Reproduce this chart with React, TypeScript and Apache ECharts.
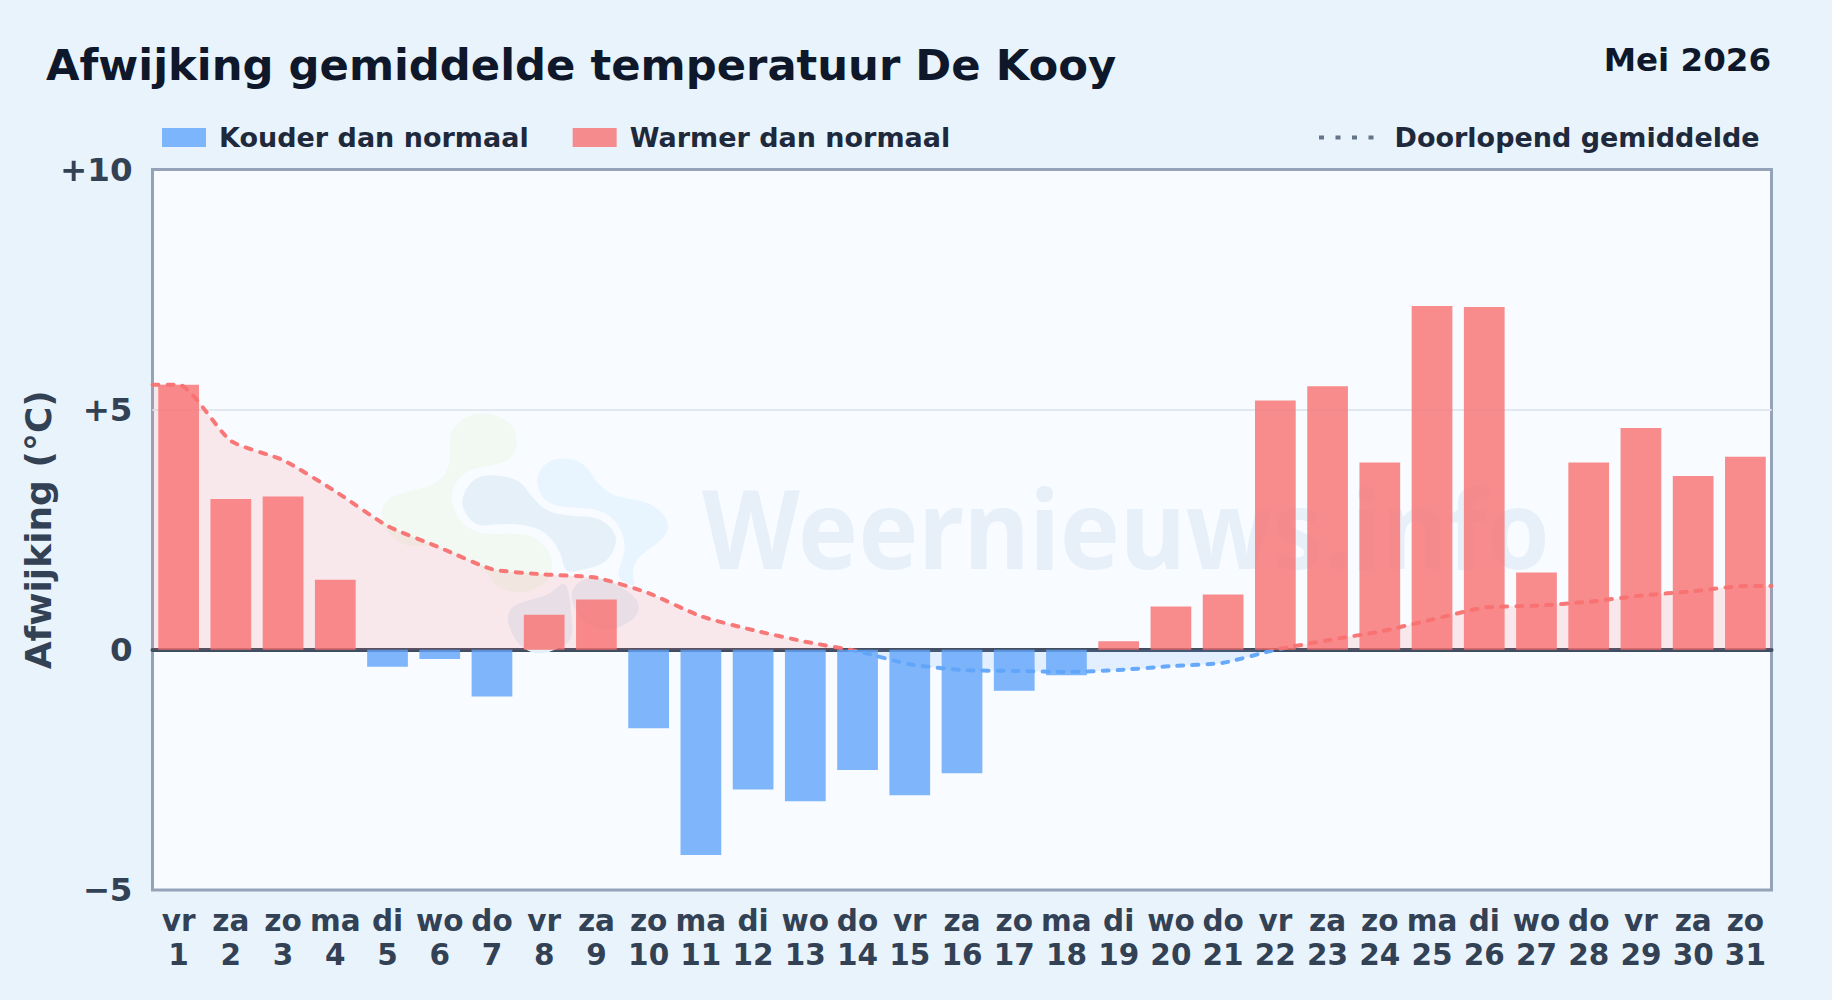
import React, { useEffect, useRef } from "react";
import * as echarts from "echarts";

const FONT = "'DejaVu Sans', sans-serif";

const weekdays = ["vr","za","zo","ma","di","wo","do","vr","za","zo","ma","di","wo","do","vr","za","zo","ma","di","wo","do","vr","za","zo","ma","di","wo","do","vr","za","zo"];
const days = [1,2,3,4,5,6,7,8,9,10,11,12,13,14,15,16,17,18,19,20,21,22,23,24,25,26,27,28,29,30,31];
const deviation = [5.52,3.14,3.19,1.46,-0.35,-0.19,-0.97,0.73,1.05,-1.63,-4.27,-2.91,-3.15,-2.5,-3.03,-2.57,-0.85,-0.53,0.18,0.9,1.15,5.19,5.49,3.9,7.16,7.14,1.61,3.9,4.62,3.62,4.02];
const runningMean = [5.52,4.35,3.95,3.3,2.58,2.13,1.68,1.57,1.5,1.18,0.7,0.41,0.17,-0.03,-0.3,-0.42,-0.44,-0.46,-0.42,-0.34,-0.27,0,0.2,0.38,0.63,0.88,0.92,1.0,1.13,1.22,1.33];
const yTicks: Record<string, string> = { "10": "+10", "5": "+5", "0": "0", "-5": "\u22125" };

type P = [number, number];
const logoGreen: P[] = [[300,95],[350,45],[420,38],[490,70],[505,130],[485,180],[420,198],[350,210],[310,255],[303,310],[335,375],[400,405],[490,400],[560,410],[610,470],[605,535],[560,570],[490,582],[430,555],[410,510],[330,470],[250,435],[170,442],[110,400],[90,340],[110,295],[180,272],[260,255],[300,200],[300,130]];
const logoDark: P[] = [[335,290],[370,235],[430,222],[510,240],[545,290],[590,335],[660,350],[740,350],[790,385],[803,430],[770,490],[700,510],[645,520],[635,460],[590,395],[520,372],[440,372],[380,380],[340,335]];
const logoLight: P[] = [[560,230],[590,185],[650,170],[710,195],[745,255],[800,293],[880,300],[945,340],[960,390],[925,430],[865,470],[845,520],[860,565],[800,535],[815,490],[830,430],[800,360],[740,325],[660,325],[590,310],[565,270]];
const logoLowRight: P[] = [[660,590],[680,550],[720,530],[790,545],[870,600],[865,650],[800,690],[750,690],[690,660]];
const logoLowLeft: P[] = [[470,670],[480,620],[540,600],[600,585],[645,540],[660,590],[665,650],[670,720],[620,750],[570,765],[510,745]];

function blob(pts: P[]): string {
  const mid = (a: P, b: P): P => [(a[0] + b[0]) / 2, (a[1] + b[1]) / 2];
  const n = pts.length;
  const s = mid(pts[n - 1], pts[0]);
  let d = `M${s[0]} ${s[1]}`;
  for (let i = 0; i < n; i++) {
    const m = mid(pts[i], pts[(i + 1) % n]);
    d += `Q${pts[i][0]} ${pts[i][1]} ${m[0]} ${m[1]}`;
  }
  return d + "Z";
}

const blobs: [string, P[], string][] = [
  ["wnGreen", logoGreen, "#f1f9f2"],
  ["wnLight", logoLight, "#e8f5fe"],
  ["wnDark", logoDark, "#e6f0f9"],
  ["wnLowR", logoLowRight, "#e6f0f9"],
  ["wnLowL", logoLowLeft, "#e6f0f9"],
];
blobs.forEach(([name, pts]) => {
  echarts.graphic.registerShape(name, echarts.graphic.extendPath(blob(pts), {}) as any);
});

function splitGradient(warm: string, cold: string) {
  const hi = Math.max(...runningMean);
  const lo = Math.min(...runningMean);
  const off = hi / (hi - lo);
  return {
    type: "linear", x: 0, y: 0, x2: 0, y2: 1,
    colorStops: [
      { offset: 0, color: warm },
      { offset: off, color: warm },
      { offset: off, color: cold },
      { offset: 1, color: cold },
    ],
  };
}

export default function App() {
  const ref = useRef<HTMLDivElement>(null);
  useEffect(() => {
    document.body.style.margin = "0";
    document.body.style.background = "#e8f3fc";
    const chart = echarts.init(ref.current!, undefined, { renderer: "svg" });
    const lineData: [number, number][] = [
      [0.5, runningMean[0]],
      ...runningMean.map((v, i) => [days[i], v] as [number, number]),
      [31.5, runningMean[runningMean.length - 1]],
    ];
    chart.setOption({
      animation: false,
      backgroundColor: "#e8f3fc",
      textStyle: { fontFamily: FONT },
      title: [
        { text: "Afwijking gemiddelde temperatuur De Kooy", left: 46, top: 43, padding: 0, textStyle: { fontFamily: FONT, fontSize: 43.3, fontWeight: "bold", color: "#0f172a" } },
        { text: "Mei 2026", right: 61, top: 43, padding: 0, textStyle: { fontFamily: FONT, fontSize: 32.5, fontWeight: "bold", color: "#0f172a" } },
      ],
      legend: [
        {
          data: ["Kouder dan normaal", "Warmer dan normaal"],
          left: 162, top: 124, padding: 0, itemWidth: 44, itemHeight: 19, itemGap: 44, selectedMode: false, icon: "rect",
          textStyle: { fontFamily: FONT, fontSize: 27, fontWeight: "bold", color: "#1e293b", padding: [0, 0, 0, 8] },
        },
        {
          data: [{ name: "Doorlopend gemiddelde", itemStyle: { opacity: 0 }, lineStyle: { color: "#64748b", width: 4, type: [5, 11.5], cap: "butt", opacity: 1 } }],
          left: 1317, top: 124, padding: 0, itemWidth: 56, itemHeight: 19, selectedMode: false,
          textStyle: { fontFamily: FONT, fontSize: 27, fontWeight: "bold", color: "#1e293b", padding: [0, 0, 0, 14.5] },
        },
      ],
      grid: { left: 152.5, right: 60.5, top: 169.5, bottom: 110, show: true, backgroundColor: "#f8fbff", borderColor: "#94a3b8", borderWidth: 3, containLabel: false },
      xAxis: [
        {
          type: "category",
          data: weekdays.map((w, i) => `${w}\n${days[i]}`),
          position: "bottom",
          axisLine: { show: false, onZero: false },
          axisTick: { show: false },
          axisLabel: { interval: 0, margin: 13.5, fontFamily: FONT, fontSize: 29.5, fontWeight: "bold", color: "#334155", lineHeight: 34, hideOverlap: false },
        },
        {
          type: "value", min: 0.5, max: 31.5, show: true,
          axisLine: { show: true, onZero: true, lineStyle: { color: "#414d61", width: 4 } },
          axisTick: { show: false }, axisLabel: { show: false }, splitLine: { show: false },
        },
      ],
      yAxis: {
        type: "value", min: -5, max: 10, interval: 5,
        name: "Afwijking (\u00b0C)", nameLocation: "middle", nameGap: 96.5, nameRotate: 90, nameMoveOverlap: false,
        nameTextStyle: { fontFamily: FONT, fontSize: 36, fontWeight: "bold", color: "#334155" },
        axisLine: { show: false }, axisTick: { show: false },
        axisLabel: { margin: 20, fontFamily: FONT, fontSize: 32.5, fontWeight: "bold", color: "#334155", formatter: (v: number) => yTicks[String(v)] ?? String(v) },
        splitLine: { show: true, showMinLine: false, showMaxLine: false, lineStyle: { color: "#e2e8f0", width: 2 } },
      },
      series: [
        {
          name: "Kouder dan normaal", type: "bar", stack: "dev", barWidth: "78%", z: 3,
          itemStyle: { color: "rgba(96,165,250,0.8)" },
          data: deviation.map((v) => (v < 0 ? v : null)),
        },
        {
          name: "Warmer dan normaal", type: "bar", stack: "dev", barWidth: "78%", z: 3,
          itemStyle: { color: "rgba(248,113,113,0.8)" },
          data: deviation.map((v) => (v >= 0 ? v : null)),
        },
        {
          name: "Doorlopend gemiddelde", type: "line", xAxisIndex: 1, smooth: 0.2, symbol: "none", z: 4,
          lineStyle: { width: 4, type: [6, 9], cap: "round", color: splitGradient("rgba(248,113,113,0.95)", "rgba(96,165,250,0.95)") },
          itemStyle: { color: "#64748b" },
          areaStyle: { color: splitGradient("rgba(248,113,113,0.14)", "rgba(96,165,250,0.14)"), opacity: 1 },
          data: lineData,
        },
      ],
      graphic: [
        ...blobs.map(([name, , fill]) => ({ type: name, x: 350, y: 400, scaleX: 1 / 3, scaleY: 1 / 3, z: 1, silent: true, style: { fill } })),
        { type: "text", x: 702, y: 527, scaleX: 0.928, z: 1, silent: true, style: { text: "Weernieuws.info", fontFamily: "'Noto Sans', sans-serif", fontSize: 109, fontWeight: 700, fill: "#e7f0f9", verticalAlign: "middle" } },
      ],
    });
    return () => chart.dispose();
  }, []);
  return <div ref={ref} style={{ width: 1832, height: 1000 }} />;
}
